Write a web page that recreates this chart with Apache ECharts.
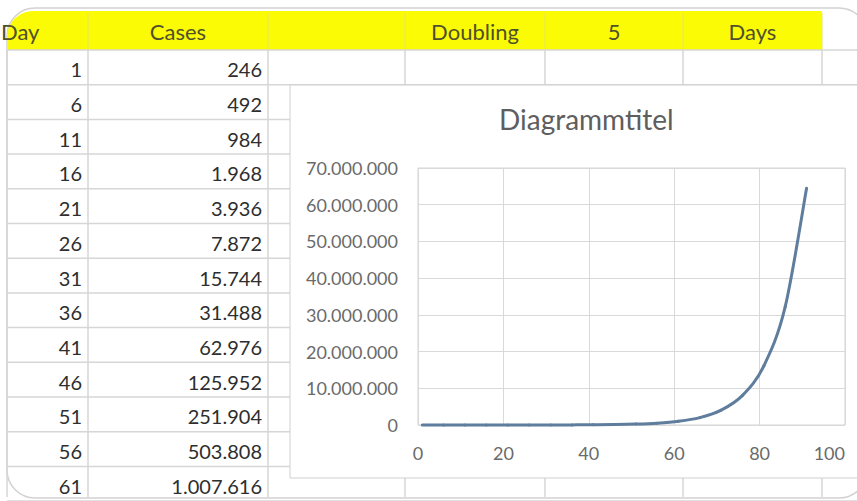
<!DOCTYPE html>
<html>
<head>
<meta charset="utf-8">
<script src="https://cdn.jsdelivr.net/npm/echarts@6/dist/echarts.min.js"></script>
<style>
  html, body { margin: 0; padding: 0; background: #ffffff; }
  #chart { width: 857px; height: 501px; }
</style>
</head>
<body>
<div id="chart"></div>
<script>
// ---- data ----
var days = [1, 6, 11, 16, 21, 26, 31, 36, 41, 46, 51, 56, 61, 66, 71, 76, 81, 86, 91];
var cases = [246, 492, 984, 1968, 3936, 7872, 15744, 31488, 62976, 125952, 251904, 503808,
             1007616, 2015232, 4030464, 8060928, 16121856, 32243712, 64487424];
var tableRowCount = 13;
var headerTexts = ['Day', 'Cases', '', 'Doubling', '5', 'Days'];
var chartTitle = 'Diagrammtitel';
var xTicks = { min: 0, max: 100, interval: 20 };
var yTicks = { min: 0, max: 70000000, interval: 10000000 };

// ---- layout ----
var FONT = 'Lato, "Open Sans", "Noto Sans", sans-serif';
var colX = [7, 88, 268, 405, 545, 683, 822];
var headerTop = 11, headerBottom = 50, rowH = 34.7;
var LINE_COLOR = '#5f7d9c';

function fmt(v) {
  return String(v).replace(/\B(?=(\d{3})+(?!\d))/g, '.');
}

var g = [];
// outer rounded screen border
g.push({ type: 'rect', z: 0, shape: { x: 7, y: 8, width: 860, height: 490, r: 28 },
  style: { fill: '#ffffff', stroke: '#d2d2d2', lineWidth: 1.5 } });
// yellow header band
g.push({ type: 'rect', z: 0, shape: { x: 7, y: headerTop, width: colX[6] - 7, height: headerBottom - headerTop, r: [26, 0, 0, 0] },
  style: { fill: '#fbfb06' } });
// horizontal row lines
for (var r = 0; r <= tableRowCount; r++) {
  var yy = headerBottom + r * rowH;
  g.push({ type: 'line', z: 0, shape: { x1: 7, y1: yy, x2: 857, y2: yy },
    style: { stroke: '#d6d6d6', lineWidth: 1.5 } });
}
// vertical column lines
for (var c = 0; c < colX.length; c++) {
  g.push({ type: 'line', z: 0, shape: { x1: colX[c], y1: headerBottom, x2: colX[c], y2: 497 },
    style: { stroke: '#d6d6d6', lineWidth: 1.5 } });
  if (c > 0) {
    g.push({ type: 'line', z: 0, shape: { x1: colX[c], y1: headerTop + 2, x2: colX[c], y2: headerBottom },
      style: { stroke: '#e4e46a', lineWidth: 1 } });
  }
}
// header texts
for (var h = 0; h < headerTexts.length; h++) {
  if (!headerTexts[h]) continue;
  var cx = h === 0 ? 1 : (colX[h] + colX[h + 1]) / 2;
  g.push({ type: 'text', z: 1, x: cx, y: (headerTop + headerBottom) / 2 + 1,
    style: { text: headerTexts[h], fill: '#50502c', font: '22px ' + FONT,
      align: h === 0 ? 'left' : 'center', verticalAlign: 'middle' } });
}
// table body texts
for (var i = 0; i < tableRowCount; i++) {
  var cy = headerBottom + (i + 0.5) * rowH + 2;
  g.push({ type: 'text', z: 1, x: 82, y: cy,
    style: { text: String(days[i]), fill: '#2e2e2e', font: '20px ' + FONT, align: 'right', verticalAlign: 'middle' } });
  g.push({ type: 'text', z: 1, x: 262, y: cy,
    style: { text: fmt(cases[i]), fill: '#2e2e2e', font: '20px ' + FONT, align: 'right', verticalAlign: 'middle' } });
}
// chart box
g.push({ type: 'rect', z: 2, shape: { x: 290, y: 85, width: 620, height: 393 },
  style: { fill: '#ffffff', stroke: '#d0d0d0', lineWidth: 1 } });

var seriesData = days.map(function (d, k) { return [d, cases[k]]; });

// Smooth (Catmull-Rom style, like a spreadsheet's smoothed line) segment i -> i+1,
// all positions obtained from the chart's own axes via api.coord.
function renderSegment(params, api) {
  var k = params.dataIndex;
  var n = seriesData.length;
  if (k >= n - 1) return null;
  var p0 = api.coord(seriesData[Math.max(k - 1, 0)]);
  var p1 = api.coord(seriesData[k]);
  var p2 = api.coord(seriesData[k + 1]);
  var p3 = api.coord(seriesData[Math.min(k + 2, n - 1)]);
  return {
    type: 'bezierCurve',
    shape: {
      x1: p1[0], y1: p1[1], x2: p2[0], y2: p2[1],
      cpx1: p1[0] + (p2[0] - p0[0]) / 6, cpy1: p1[1] + (p2[1] - p0[1]) / 6,
      cpx2: p2[0] - (p3[0] - p1[0]) / 6, cpy2: p2[1] - (p3[1] - p1[1]) / 6
    },
    style: { stroke: LINE_COLOR, lineWidth: 3, fill: null, lineCap: 'round' }
  };
}

var chart = echarts.init(document.getElementById('chart'), null, { renderer: 'svg' });
chart.setOption({
  backgroundColor: '#ffffff',
  animation: false,
  graphic: { elements: g },
  title: {
    text: chartTitle, left: 494, top: 100, z: 10,
    textStyle: { fontFamily: FONT, fontSize: 28, fontWeight: 'normal', color: '#5e5e5e' }
  },
  grid: {
    left: 418, right: 12, top: 168, bottom: 76, z: 3,
    outerBoundsMode: 'none', containLabel: false,
    show: true, borderColor: '#d4d4d4', borderWidth: 1, backgroundColor: 'transparent'
  },
  xAxis: {
    type: 'value', z: 3, min: xTicks.min, max: xTicks.max, interval: xTicks.interval,
    axisLine: { show: false }, axisTick: { show: false },
    splitLine: { show: true, lineStyle: { color: '#d9d9d9', width: 1 } },
    axisLabel: { margin: 19, fontFamily: FONT, fontSize: 18, color: '#6a6a6a', alignMaxLabel: 'right' }
  },
  yAxis: {
    type: 'value', z: 3, min: yTicks.min, max: yTicks.max, interval: yTicks.interval,
    axisLine: { show: false }, axisTick: { show: false },
    splitLine: { show: true, lineStyle: { color: '#d9d9d9', width: 1 } },
    axisLabel: { margin: 20, fontFamily: FONT, fontSize: 18, color: '#6a6a6a', formatter: fmt }
  },
  series: [{
    type: 'custom', name: 'Cases', z: 5,
    coordinateSystem: 'cartesian2d',
    encode: { x: 0, y: 1 },
    data: seriesData,
    renderItem: renderSegment
  }]
});
</script>
</body>
</html>
